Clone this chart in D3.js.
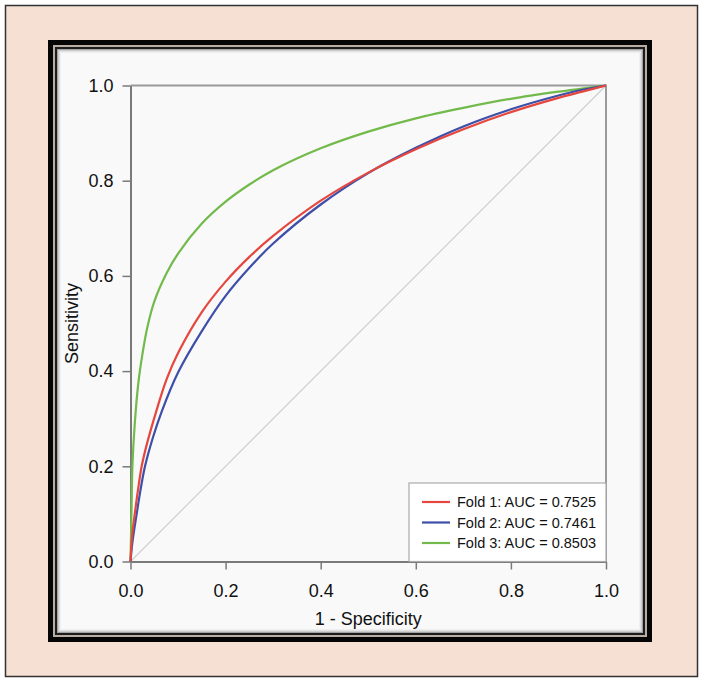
<!DOCTYPE html>
<html>
<head>
<meta charset="utf-8">
<script src="https://cdn.jsdelivr.net/npm/d3@7"></script>
<style>
  body { margin: 0; background: #fff; }
  svg { display: block; }
</style>
</head>
<body>
<script>
// chart data: [1 - specificity, sensitivity]
var foldNames = ["Fold 1", "Fold 2", "Fold 3"];
var aucValues = ["0.7525", "0.7461", "0.8503"];
var foldColors = ["#e5473e", "#3e4fa9", "#72ba4b"];

var fold1 = [[0,0],[0.003,0.05],[0.009,0.10],[0.016,0.152],[0.0235,0.20],[0.034,0.245],
  [0.054,0.315],[0.076,0.383],[0.1,0.438],[0.15,0.524],[0.2,0.588],[0.25,0.640],
  [0.3,0.684],[0.4,0.758],[0.5,0.817],[0.6,0.866],[0.7,0.908],[0.8,0.944],
  [0.9,0.974],[0.95,0.987],[1,1]];
var fold2 = [[0,0],[0.004,0.04],[0.013,0.10],[0.021,0.15],[0.0305,0.20],[0.047,0.26],
  [0.0656,0.315],[0.1,0.397],[0.15,0.484],[0.2,0.558],[0.25,0.617],
  [0.3,0.668],[0.4,0.750],[0.5,0.816],[0.6,0.869],[0.7,0.914],[0.8,0.950],
  [0.9,0.979],[0.95,0.991],[1,1]];
var fold3 = [[0,0],[0.002,0.10],[0.004,0.20],[0.009,0.29],[0.0165,0.375],[0.025,0.435],
  [0.035,0.49],[0.05,0.546],[0.075,0.604],[0.1,0.647],[0.15,0.710],[0.2,0.756],
  [0.25,0.792],[0.3,0.822],[0.4,0.868],[0.5,0.903],[0.6,0.931],[0.7,0.953],
  [0.8,0.972],[0.9,0.987],[0.95,0.9935],[1,1]];
var chanceLine = [[0,0],[1,1]];
var tickValues = [0, 0.2, 0.4, 0.6, 0.8, 1.0];

var width = 705, height = 684;
var fontFam = "Helvetica, Arial, 'Liberation Sans', sans-serif";

var svg = d3.select("body").append("svg")
  .attr("width", width)
  .attr("height", height);

// --- picture frame ---
svg.append("rect")
  .attr("x", 5.5).attr("y", 5.5).attr("width", 692).attr("height", 671)
  .style("fill", "#f5e0d3").style("stroke", "#333").style("stroke-width", 1.5);
svg.append("rect")
  .attr("x", 48).attr("y", 40).attr("width", 604).attr("height", 602)
  .style("fill", "#050505");
svg.append("rect")
  .attr("x", 53).attr("y", 45).attr("width", 594).attr("height", 592)
  .style("fill", "#b9aea6");
svg.append("rect")
  .attr("x", 55).attr("y", 47).attr("width", 590).attr("height", 588)
  .style("fill", "#1c1c1c");
svg.append("rect")
  .attr("x", 57).attr("y", 49).attr("width", 586).attr("height", 584)
  .style("fill", "#f9f9f9");
// soft inner shadow
[[0.5, 0.35], [1.5, 0.18], [2.5, 0.09], [3.5, 0.04]].forEach(function(s) {
  svg.append("rect")
    .attr("x", 57 + s[0]).attr("y", 49 + s[0])
    .attr("width", 586 - 2 * s[0]).attr("height", 584 - 2 * s[0])
    .style("fill", "none").style("stroke", "#000")
    .style("stroke-opacity", s[1]).style("stroke-width", 1);
});

// --- scales ---
var x = d3.scaleLinear().domain([0, 1]).range([130.5, 606]);
var y = d3.scaleLinear().domain([0, 1]).range([561.5, 85.5]);

var line = d3.line()
  .x(function(d) { return x(d[0]); })
  .y(function(d) { return y(d[1]); })
  .curve(d3.curveCatmullRom.alpha(0.5));

// box top and right
svg.append("path")
  .attr("d", "M" + x(0) + "," + y(1) + "H" + x(1) + "V" + y(0))
  .style("fill", "none").style("stroke", "#9a9a9a").style("stroke-width", 2);

// chance diagonal
svg.append("path")
  .attr("d", d3.line().x(function(d) { return x(d[0]); }).y(function(d) { return y(d[1]); })(chanceLine))
  .style("fill", "none").style("stroke", "#cfcfcf").style("stroke-width", 1.2);

// axes
var xAxis = d3.axisBottom(x).tickValues(tickValues).tickFormat(d3.format(".1f"))
  .tickSize(8).tickSizeOuter(0).tickPadding(15);
var yAxis = d3.axisLeft(y).tickValues(tickValues).tickFormat(d3.format(".1f"))
  .tickSize(8).tickSizeOuter(0).tickPadding(9);

function styleAxis(g) {
  g.select(".domain").style("stroke", "#7a7a7a").style("stroke-width", 2);
  g.selectAll(".tick line").style("stroke", "#7a7a7a").style("stroke-width", 1.5);
  g.selectAll(".tick text").style("font-family", fontFam)
    .style("font-size", "18px").style("fill", "#111");
}

svg.append("g").attr("transform", "translate(0," + y(0) + ")").call(xAxis).call(styleAxis);
svg.append("g").attr("transform", "translate(" + x(0) + ",0)").call(yAxis).call(styleAxis);

// ROC curves (fold 3 at back, fold 1 on top like the picture)
var folds = [fold1, fold2, fold3];
[2, 1, 0].forEach(function(i) {
  svg.append("path")
    .attr("d", line(folds[i]))
    .style("fill", "none")
    .style("stroke", foldColors[i])
    .style("stroke-width", 2.2);
});

// axis titles
svg.append("text")
  .attr("x", (x(0) + x(1)) / 2).attr("y", 625)
  .attr("text-anchor", "middle")
  .style("font-family", fontFam).style("font-size", "18px").style("fill", "#111")
  .text("1 - Specificity");
svg.append("text")
  .attr("transform", "translate(78," + (y(0) + y(1)) / 2 + ") rotate(-90)")
  .attr("text-anchor", "middle")
  .style("font-family", fontFam).style("font-size", "18px").style("fill", "#111")
  .text("Sensitivity");

// legend
var legend = svg.append("g").attr("transform", "translate(409,483)");
legend.append("rect")
  .attr("width", x(1) - 409).attr("height", y(0) - 483)
  .style("fill", "#fff").style("stroke", "#aaa").style("stroke-width", 1.2);
foldNames.forEach(function(name, i) {
  var row = legend.append("g").attr("transform", "translate(0," + (19 + i * 20.5) + ")");
  row.append("line")
    .attr("x1", 13).attr("x2", 41).attr("y1", 0).attr("y2", 0)
    .style("stroke", foldColors[i]).style("stroke-width", 2.2);
  row.append("text")
    .attr("x", 48).attr("y", 5)
    .style("font-family", fontFam).style("font-size", "14.5px").style("fill", "#111")
    .text(name + ": AUC = " + aucValues[i]);
});
</script>
</body>
</html>
